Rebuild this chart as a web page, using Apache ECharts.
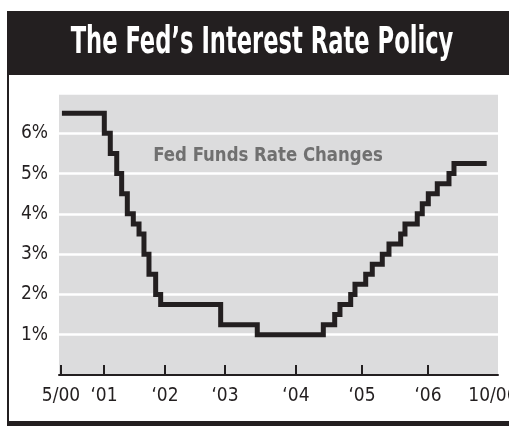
<!DOCTYPE html>
<html>
<head>
<meta charset="utf-8">
<script src="https://cdn.jsdelivr.net/npm/echarts@6/dist/echarts.min.js"></script>
<style>
html,body{margin:0;padding:0;background:#fff;}
#chart{width:509px;height:426px;}
</style>
</head>
<body>
<div id="chart"></div>
<script>
// Data (decimal years, rate in %)
const changeDates = [2000.40, 2001.052, 2001.144, 2001.243, 2001.319, 2001.406, 2001.498, 2001.586, 2001.662, 2001.739, 2001.842, 2001.919, 2002.842, 2003.405, 2004.421, 2004.596, 2004.677, 2004.842, 2004.908, 2005.073, 2005.174, 2005.328, 2005.431, 2005.611, 2005.677, 2005.866, 2005.943, 2006.036, 2006.174, 2006.354, 2006.431, 2006.934];
const rates = [6.5, 6.0, 5.5, 5.0, 4.5, 4.0, 3.75, 3.5, 3.0, 2.5, 2.0, 1.75, 1.25, 1.0, 1.25, 1.5, 1.75, 2.0, 2.25, 2.5, 2.75, 3.0, 3.25, 3.5, 3.75, 4.0, 4.25, 4.5, 4.75, 5.0, 5.25, 5.25];
const tickYears = [2000.386, 2001.047, 2001.985, 2002.909, 2004.0, 2005.016, 2006.031];
const xLabelYears = [2000.386, 2001.047, 2001.985, 2002.909, 2004.0, 2005.016, 2006.031, 2007.03];
const xLabels = ['5/00', '\u201801', '\u201802', '\u201803', '\u201804', '\u201805', '\u201806', '10/06'];
const yTicks = [1, 2, 3, 4, 5, 6];
const title = 'The Fed\u2019s Interest Rate Policy';
const subtitle = 'Fed Funds Rate Changes';

const FONT = "'Liberation Sans Narrow','DejaVu Sans Condensed','Roboto Condensed',Roboto,sans-serif";
const chart = echarts.init(document.getElementById('chart'), null, {renderer: 'canvas'});
const seriesData = changeDates.map((d, i) => [d, rates[i]]);

chart.setOption({
  animation: false,
  backgroundColor: '#ffffff',
  grid: {left: 59, right: 11, top: 93, bottom: 51, show: true, backgroundColor: '#dcdcdd', borderWidth: 0, containLabel: false, outerBoundsMode: 'none'},
  xAxis: {
    type: 'value', min: 2000.355, max: 2007.108,
    axisLine: {show: true, lineStyle: {color: '#231f20', width: 2}},
    axisTick: {show: true, inside: true, length: 10, lineStyle: {color: '#231f20', width: 2}, customValues: tickYears},
    axisLabel: {
      show: true, customValues: xLabelYears, margin: 12, hideOverlap: false,
      color: '#231f20', fontSize: 19, fontFamily: FONT,
      formatter: v => { const i = xLabelYears.findIndex(x => Math.abs(x - v) < 1e-6); return i >= 0 ? xLabels[i] : ''; }
    },
    splitLine: {show: false}
  },
  yAxis: {
    type: 'value', min: 0, max: 7, interval: 1,
    axisLine: {show: false}, axisTick: {show: false},
    axisLabel: {
      margin: 11, color: '#231f20', fontSize: 19, fontFamily: FONT,
      formatter: v => yTicks.includes(v) ? v + '%' : ''
    },
    splitLine: {show: true, lineStyle: {color: '#ffffff', width: 2.5}}
  },
  series: [{
    type: 'line', step: 'end', data: seriesData, symbol: 'none',
    lineStyle: {color: '#231f20', width: 5, cap: 'butt', join: 'miter'}
  }],
  graphic: [
    {type: 'rect', shape: {x: 7, y: 11, width: 502, height: 64}, style: {fill: '#231f20'}},
    {type: 'rect', shape: {x: 7, y: 11, width: 2, height: 412}, style: {fill: '#231f20'}},
    {type: 'rect', shape: {x: 7, y: 421, width: 502, height: 5}, style: {fill: '#231f20'}},
    {type: 'text', x: 262, y: 43, scaleX: 0.68, style: {text: title, fill: '#ffffff', font: "bold 37px " + FONT, textAlign: 'center', textVerticalAlign: 'middle'}},
    {type: 'text', x: 268, y: 156, scaleX: 0.92, style: {text: subtitle, fill: '#707070', font: "bold 20px " + FONT, textAlign: 'center', textVerticalAlign: 'middle'}}
  ]
});
</script>
</body>
</html>
